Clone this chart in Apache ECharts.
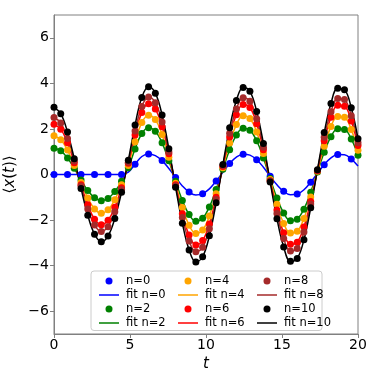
<!DOCTYPE html>
<html><head><meta charset="utf-8">
<script src="https://cdn.jsdelivr.net/npm/echarts@6/dist/echarts.min.js"></script>
<style>html,body{margin:0;padding:0;background:#fff}#c{width:382px;height:382px}</style>
</head><body><div id="c"></div>
<script>
// time samples
const t = [0,0.444,0.889,1.333,1.778,2.222,2.667,3.111,3.556,4.0,4.444,4.889,5.333,5.778,6.222,6.667,7.111,7.556,8.0,8.444,8.889,9.333,9.778,10.222,10.667,11.111,11.556,12.0,12.444,12.889,13.333,13.778,14.222,14.667,15.111,15.556,16.0,16.444,16.889,17.333,17.778,18.222,18.667,19.111,19.556,20.0];
// n = 0 (blue): dots every other sample, fit on all samples
const tBlue = [0,0.889,1.778,2.667,3.556,4.444,5.333,6.222,7.111,8.0,8.889,9.778,10.667,11.556,12.444,13.333,14.222,15.111,16.0,16.889,17.778,18.667,19.556];
const n0 = [0,0,0,0,0,0,0.45,0.90,0.61,-0.13,-0.77,-0.84,-0.29,0.48,0.89,0.65,-0.08,-0.74,-0.86,-0.34,0.43,0.88,0.68];
const fit0 = [0,0,0,0,0,0,0,0,0,0,0,0.10,0.45,0.79,0.90,0.83,0.61,0.26,-0.13,-0.50,-0.77,-0.90,-0.84,-0.63,-0.29,0.10,0.48,0.76,0.89,0.85,0.65,0.32,-0.08,-0.45,-0.74,-0.89,-0.86,-0.67,-0.34,0.05,0.43,0.73,0.88,0.87,0.68,0.37];
const n2 = [1.15,1.04,0.72,0.27,-0.24,-0.70,-1.02,-1.15,-1.05,-0.75,-0.30,0.30,1.12,1.80,2.05,1.90,1.39,0.60,-0.30,-1.14,-1.76,-2.05,-1.92,-1.43,-0.66,0.23,1.09,1.73,2.03,1.94,1.48,0.72,-0.18,-1.03,-1.69,-2.03,-1.96,-1.52,-0.78,0.11,0.98,1.66,2.01,1.98,1.56,0.84];
const n4 = [1.70,1.53,1.07,0.40,-0.35,-1.03,-1.51,-1.70,-1.55,-1.11,-0.45,0.40,1.44,2.28,2.60,2.41,1.76,0.76,-0.38,-1.45,-2.23,-2.59,-2.44,-1.82,-0.84,0.30,1.38,2.19,2.58,2.46,1.87,0.92,-0.22,-1.31,-2.15,-2.57,-2.49,-1.93,-0.99,0.14,1.24,2.11,2.55,2.51,1.97,1.06];
const n6 = [2.20,1.99,1.39,0.52,-0.45,-1.33,-1.96,-2.20,-2.01,-1.44,-0.58,0.49,1.73,2.72,3.10,2.87,2.10,0.91,-0.45,-1.72,-2.66,-3.09,-2.90,-2.17,-1.00,0.35,1.65,2.62,3.07,2.94,2.23,1.09,-0.27,-1.56,-2.56,-3.06,-2.97,-2.30,-1.18,0.17,1.48,2.51,3.04,3.00,2.35,1.27];
const n8 = [2.50,2.26,1.58,0.59,-0.51,-1.51,-2.22,-2.50,-2.29,-1.63,-0.66,0.54,1.91,2.98,3.40,3.15,2.30,1.00,-0.49,-1.89,-2.92,-3.39,-3.19,-2.38,-1.10,0.39,1.81,2.87,3.37,3.22,2.45,1.20,-0.29,-1.71,-2.81,-3.36,-3.25,-2.52,-1.29,0.19,1.63,2.75,3.34,3.29,2.58,1.39];
const n10 = [2.95,2.67,1.86,0.69,-0.61,-1.79,-2.62,-2.95,-2.70,-1.93,-0.78,0.62,2.17,3.38,3.85,3.57,2.61,1.13,-0.56,-2.14,-3.31,-3.84,-3.61,-2.69,-1.24,0.44,2.05,3.25,3.82,3.65,2.77,1.36,-0.33,-1.94,-3.18,-3.81,-3.69,-2.86,-1.46,0.21,1.84,3.12,3.78,3.72,2.93,1.57];
const xTicks = [0,5,10,15,20];
const yTicks = [-6,-4,-2,0,2,4,6];
const colors = {0:'#0000ff',2:'#008000',4:'#ffa500',6:'#ff0000',8:'#a52a2a',10:'#000000'};

const pairs = (xs, ys) => xs.map((x,i)=>[x, ys[i]]);
const groups = [
  {n:0, dx:tBlue, dots:n0, fx:t, fit:fit0},
  {n:2, dx:t, dots:n2, fx:t, fit:n2},
  {n:4, dx:t, dots:n4, fx:t, fit:n4},
  {n:6, dx:t, dots:n6, fx:t, fit:n6},
  {n:8, dx:t, dots:n8, fx:t, fit:n8},
  {n:10, dx:t, dots:n10, fx:t, fit:n10}
];
const series = [];
groups.forEach(g => {
  series.push({name:'n='+g.n, type:'scatter', data:pairs(g.dx,g.dots), symbol:'circle', symbolSize:7,
    itemStyle:{color:colors[g.n], opacity:1}, z:2, silent:true});
  series.push({name:'fit n='+g.n, type:'line', data:pairs(g.fx,g.fit), showSymbol:false, symbol:'none', smooth:0.4,
    lineStyle:{color:colors[g.n], width:1.5}, itemStyle:{color:colors[g.n]}, z:2, silent:true});
});
const lineIcon = 'path://M0,0 L40,0 L40,3 L0,3 Z';
function legendCol(left, ns){
  const data = [];
  ns.forEach(n => { data.push({name:'n='+n, icon:'circle', itemStyle:{opacity:1}}); data.push({name:'fit n='+n, icon:lineIcon}); });
  return {orient:'vertical', left:left, top:270, itemWidth:20, itemHeight:7, itemGap:2, selectedMode:false,
    data:data, z:5, textStyle:{fontSize:11.5, lineHeight:12, color:'#000', fontFamily:'DejaVu Sans', padding:[0,0,0,2]}};
}
const minus = v => String(v).replace('-', '\u2212');
const chart = echarts.init(document.getElementById('c'), null, {renderer:'canvas'});
chart.setOption({
  animation:false,
  backgroundColor:'#fff',
  grid:{left:54, top:15, right:24, bottom:48, outerBoundsMode:'none', containLabel:false, show:true, borderColor:'#808080', borderWidth:1, backgroundColor:'transparent'},
  xAxis:{type:'value', min:0, max:20, interval:5,
    name:'t', nameLocation:'middle', nameGap:16,
    nameTextStyle:{fontSize:15, fontStyle:'italic', color:'#000', fontFamily:'DejaVu Sans'},
    axisLine:{onZero:false, lineStyle:{color:'#808080'}}, axisTick:{length:4, lineStyle:{color:'#808080'}, customValues:xTicks},
    axisLabel:{fontSize:14, color:'#000', margin:4, fontFamily:'DejaVu Sans', customValues:xTicks}, splitLine:{show:false}},
  yAxis:{type:'value', min:-7, max:7,
    name:'{a|\u27E8}{i|x}{a|(}{i|t}{a|)\u27E9}', nameLocation:'middle', nameGap:21, nameRotate:90,
    nameTextStyle:{fontSize:15, color:'#000', fontFamily:'DejaVu Sans',
      rich:{a:{fontSize:15, fontFamily:'DejaVu Sans', color:'#000'}, i:{fontSize:15, fontStyle:'italic', fontFamily:'DejaVu Sans', color:'#000'}}},
    axisLine:{onZero:false, lineStyle:{color:'#808080'}}, axisTick:{length:4, lineStyle:{color:'#808080'}, customValues:yTicks},
    axisLabel:{fontSize:14, color:'#000', margin:5, fontFamily:'DejaVu Sans', customValues:yTicks, formatter:minus}, splitLine:{show:false}},
  legend:[legendCol(94,[0,2]), legendCol(173,[4,6]), legendCol(252,[8,10])],
  graphic:[{type:'rect', left:90.5, top:270.5, shape:{width:231, height:59.5, r:3}, z:4,
    style:{fill:'rgba(255,255,255,0.8)', stroke:'#cccccc', lineWidth:1}}],
  series:series
});
</script></body></html>
